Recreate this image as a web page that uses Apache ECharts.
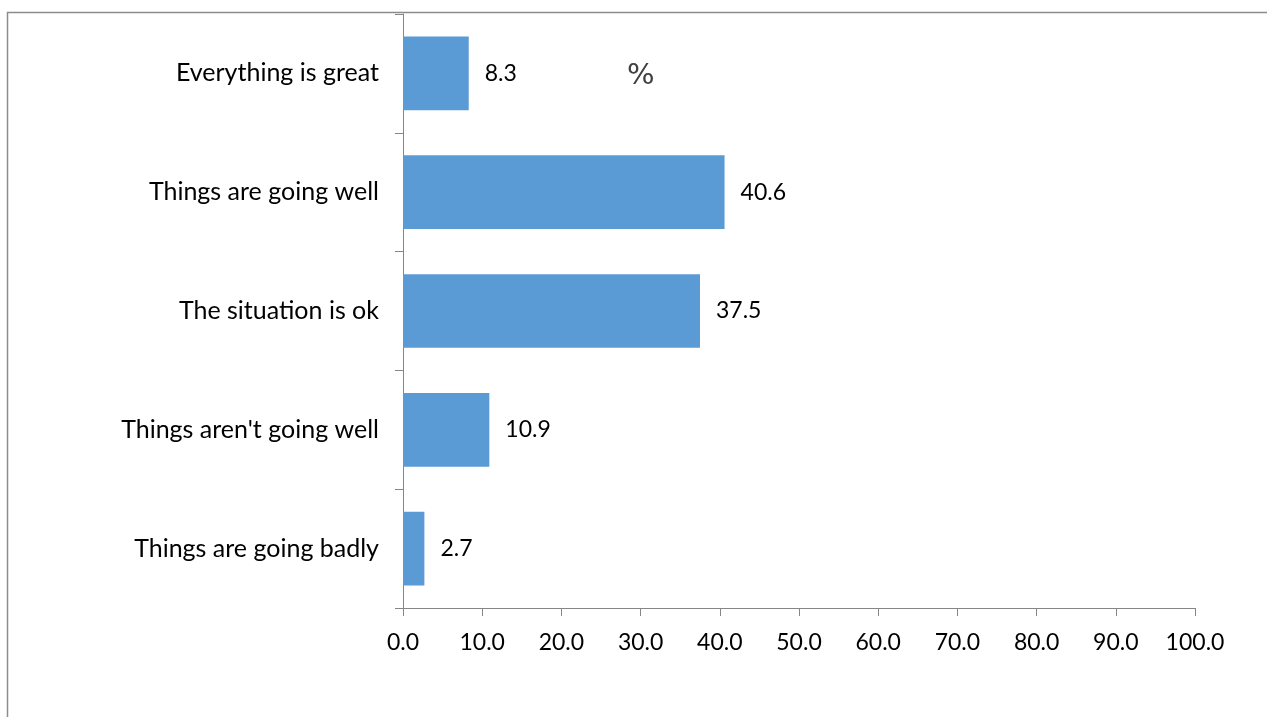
<!DOCTYPE html>
<html>
<head>
<meta charset="utf-8">
<script src="https://cdn.jsdelivr.net/npm/echarts@6/dist/echarts.min.js"></script>
<style>
  html, body { margin: 0; padding: 0; background: #fff; }
  #chart { width: 1267px; height: 717px; }
</style>
</head>
<body>
<div id="chart"></div>
<script>
// Survey answers, top to bottom, and their shares in percent
const categories = [
  'Everything is great',
  'Things are going well',
  'The situation is ok',
  "Things aren't going well",
  'Things are going badly'
];
const shares = [8.3, 40.6, 37.5, 10.9, 2.7];
const unitLabel = '%';

const axisGray = '#868686';
const textFont = 'Lato';

const chart = echarts.init(document.getElementById('chart'));
chart.setOption({
  animation: false,
  grid: { left: 403, right: 72, top: 14, bottom: 109, containLabel: false },
  xAxis: {
    type: 'value',
    min: 0,
    max: 100,
    interval: 10,
    axisLine: { show: true, lineStyle: { color: axisGray, width: 1 } },
    axisTick: { show: true, length: 8, lineStyle: { color: axisGray } },
    splitLine: { show: false },
    axisLabel: {
      color: '#000',
      fontFamily: textFont,
      fontSize: 23,
      margin: 23,
      formatter: v => v.toFixed(1)
    }
  },
  yAxis: {
    type: 'category',
    inverse: true,
    data: categories,
    axisLine: { show: true, lineStyle: { color: axisGray, width: 1 } },
    axisTick: { show: true, length: 8, lineStyle: { color: axisGray } },
    axisLabel: {
      color: '#000',
      fontFamily: textFont,
      fontSize: 25,
      margin: 24
    }
  },
  series: [{
    type: 'bar',
    data: shares,
    barWidth: '62%',
    itemStyle: { color: '#5B9BD5' },
    label: {
      show: true,
      position: 'right',
      distance: 16,
      color: '#000',
      fontFamily: textFont,
      fontSize: 23,
      formatter: p => p.value.toFixed(1)
    }
  }],
  graphic: [
    {
      type: 'rect',
      shape: { x: 7.5, y: 12.5, width: 1300, height: 800 },
      style: { fill: 'none', stroke: '#8c8c8c', lineWidth: 1.5 },
      silent: true,
      z: -1
    },
    {
      type: 'text',
      left: 627,
      top: 62,
      style: { text: unitLabel, fill: '#404040', font: '29px "DejaVu Sans"' }
    }
  ]
});
</script>
</body>
</html>
